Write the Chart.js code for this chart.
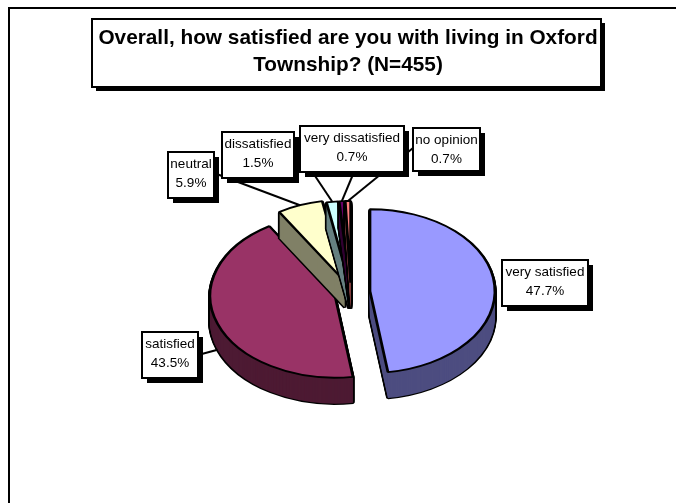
<!DOCTYPE html>
<html>
<head>
<meta charset="utf-8">
<title>Oxford Township satisfaction</title>
<script src="https://cdn.jsdelivr.net/npm/chart.js@4/dist/chart.umd.min.js"></script>
<style>
  html, body { margin: 0; padding: 0; background: #fff; }
  canvas { display: block; }
</style>
</head>
<body>
<canvas id="pie" width="676" height="503"></canvas>
<script>
// === DATOS ===
const titleLines = ["Overall, how satisfied are you with living in Oxford", "Township? (N=455)"];
const sliceLabels = ["very satisfied", "satisfied", "neutral", "dissatisfied", "very dissatisfied", "no opinion"];
const sliceValues = [47.7, 43.5, 5.9, 1.5, 0.7, 0.7];
const sliceColors = ["#9999ff", "#993366", "#ffffcc", "#ccffff", "#660066", "#ff8080"];
const wallColors = ["#4d4d80", "#4d1a33", "#808066", "#668080", "#330033", "#804040"];

// === LAYOUT DEL PASTEL 3D ===
const pieCenter = { x: 351, y: 292 };
const tilt = 0.655;
const depth = 26;
const explode = [19, 17, 17, 14, 14, 14];

// === CAJAS DE ETIQUETAS (x, y, w, h) y origen de cada línea guía ===
const labelBoxes = [
  [502, 260, 86, 46],
  [142, 332, 56, 46],
  [168, 152, 46, 46],
  [222, 132, 72, 46],
  [300, 126, 104, 46],
  [413, 128, 67, 43],
];
const leaderFrom = [null, [198, 355], [214, 173], [295, 146], [354, 172], [413, 148]];
const leaderDrop = [0, 26, 0, 0, 0, 0];
const titleBox = [92, 19, 509, 68];

function placeSlice(ctx, arc, i, drop) {
  const mid = (arc.startAngle + arc.endAngle) / 2;
  ctx.translate(pieCenter.x, pieCenter.y + drop);
  ctx.scale(1, tilt);
  ctx.translate(Math.cos(mid) * explode[i], Math.sin(mid) * explode[i]);
  ctx.translate(-arc.x, -arc.y);
}

function drawLayer(ctx, arc, i, drop, style) {
  const orig = arc.options;
  arc.options = Object.assign({}, orig, style);
  ctx.save();
  placeSlice(ctx, arc, i, drop);
  arc.draw(ctx);
  ctx.restore();
  arc.options = orig;
}

function drawBox(ctx, b, shadow) {
  ctx.fillStyle = "#000";
  ctx.fillRect(b[0] + shadow, b[1] + shadow, b[2], b[3]);
  ctx.fillStyle = "#fff";
  ctx.fillRect(b[0], b[1], b[2], b[3]);
  ctx.strokeStyle = "#000";
  ctx.lineWidth = 2;
  ctx.strokeRect(b[0], b[1], b[2], b[3]);
}

// === PLUGIN: marco y caja del título (detrás de todo) ===
const framePlugin = {
  id: "frame",
  beforeDraw(chart) {
    const ctx = chart.ctx;
    ctx.save();
    ctx.fillStyle = "#fff";
    ctx.fillRect(0, 0, chart.width, chart.height);
    ctx.strokeStyle = "#000";
    ctx.lineWidth = 2;
    ctx.beginPath();
    ctx.moveTo(9, chart.height);
    ctx.lineTo(9, 8);
    ctx.lineTo(chart.width, 8);
    ctx.stroke();
    drawBox(ctx, titleBox, 4);
    ctx.restore();
  },
};

// === PLUGIN: dibuja cada porción con su pared lateral ===
const pie3dPlugin = {
  id: "pie3d",
  beforeDatasetDraw(chart, args) {
    const ctx = chart.ctx;
    args.meta.data.forEach((arc, i) => {
      for (let d = depth; d > 0; d--) {
        drawLayer(ctx, arc, i, d, { backgroundColor: "#000", borderColor: "#000", borderWidth: 3.5 });
      }
      for (let d = depth; d > 0; d--) {
        drawLayer(ctx, arc, i, d, { backgroundColor: wallColors[i], borderWidth: 0 });
      }
      drawLayer(ctx, arc, i, 0, {});
    });
    return false;
  },
  afterDatasetsDraw(chart) {
    const ctx = chart.ctx;
    const arcs = chart.getDatasetMeta(0).data;
    ctx.save();
    // líneas guía
    ctx.strokeStyle = "#000";
    ctx.lineWidth = 2;
    arcs.forEach((arc, i) => {
      if (!leaderFrom[i]) return;
      const mid = (arc.startAngle + arc.endAngle) / 2;
      const r = arc.outerRadius + explode[i];
      ctx.beginPath();
      ctx.moveTo(leaderFrom[i][0], leaderFrom[i][1]);
      ctx.lineTo(pieCenter.x + Math.cos(mid) * r, pieCenter.y + leaderDrop[i] + Math.sin(mid) * r * tilt);
      ctx.stroke();
    });
    // etiquetas
    ctx.font = "13.5px 'Liberation Sans', Arial, sans-serif";
    ctx.textAlign = "center";
    ctx.textBaseline = "middle";
    sliceLabels.forEach((label, i) => {
      const b = labelBoxes[i];
      drawBox(ctx, b, 5);
      ctx.fillStyle = "#000";
      ctx.fillText(label, b[0] + b[2] / 2, b[1] + 12);
      ctx.fillText(sliceValues[i].toFixed(1) + "%", b[0] + b[2] / 2, b[1] + 31);
    });
    ctx.restore();
  },
};

// === GRÁFICO ===
new Chart(document.getElementById("pie"), {
  type: "pie",
  data: {
    labels: sliceLabels,
    datasets: [{
      data: sliceValues,
      backgroundColor: sliceColors,
      borderColor: "#000",
      borderWidth: 2.8,
    }],
  },
  options: {
    responsive: false,
    animation: false,
    events: [],
    radius: 125,
    layout: { padding: { left: 20 } },
    plugins: {
      legend: { display: false },
      tooltip: { enabled: false },
      title: {
        display: true,
        text: titleLines,
        color: "#000",
        font: { family: "'Liberation Sans', Arial, sans-serif", size: 20.8, weight: "bold", lineHeight: 1.3 },
        padding: { top: 25, bottom: 10 },
      },
    },
  },
  plugins: [framePlugin, pie3dPlugin],
});
</script>
</body>
</html>
